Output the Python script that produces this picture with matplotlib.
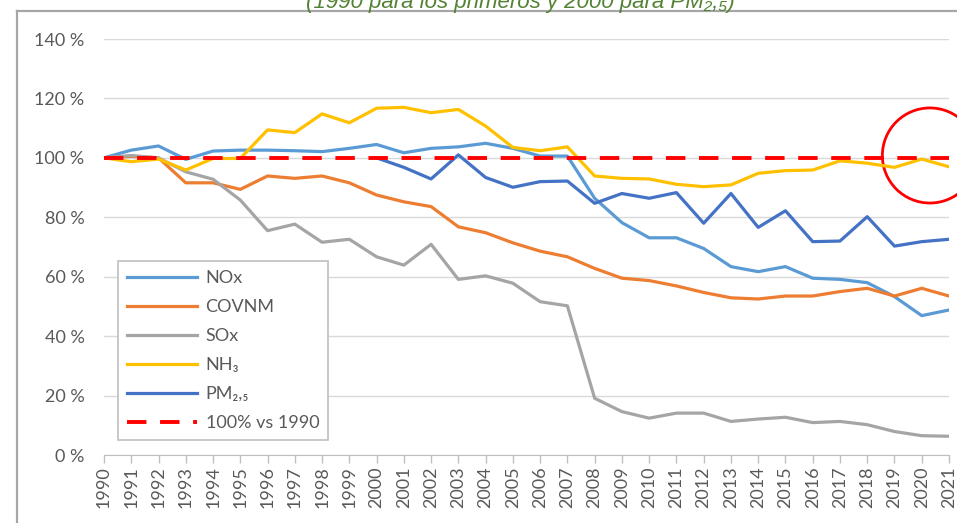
import numpy as np
import matplotlib.pyplot as plt
from matplotlib.patches import Ellipse
from matplotlib.lines import Line2D

plt.rcParams['font.family'] = ['Lato', 'DejaVu Sans']

years = list(range(1990, 2022))

nox = [100, 102.6, 104, 99.5, 102.3, 102.6, 102.6, 102.4, 102.1, 103.2,
       104.5, 101.7, 103.2, 103.7, 104.9, 103.2, 100.6, 100.6, 86.4, 78.2,
       73.1, 73.1, 69.5, 63.4, 61.7, 63.4, 59.5, 59.1, 58.0, 53.3, 46.9, 48.8]
covnm = [100, 100.5, 100, 91.6, 91.6, 89.4, 93.9, 93.1, 93.9, 91.6,
         87.5, 85.2, 83.6, 76.8, 74.8, 71.4, 68.6, 66.7, 62.8, 59.5,
         58.7, 56.9, 54.7, 52.9, 52.5, 53.5, 53.5, 55.0, 56.1, 53.5, 56.1, 53.5]
sox = [100, 100.8, 100, 95.3, 92.8, 85.8, 75.5, 77.7, 71.6, 72.6,
       66.7, 63.9, 70.9, 59.1, 60.3, 57.8, 51.6, 50.2, 19.1, 14.6,
       12.4, 14.1, 14.1, 11.3, 12.1, 12.7, 10.9, 11.3, 10.2, 7.9, 6.5, 6.3]
nh3 = [100, 98.7, 99.6, 95.9, 99.8, 99.8, 109.4, 108.5, 114.8, 111.8,
       116.7, 117.0, 115.2, 116.3, 110.7, 103.5, 102.4, 103.7, 93.9, 93.1,
       92.9, 91.1, 90.3, 90.9, 94.8, 95.7, 95.9, 99.0, 98.2, 96.8, 99.6, 97.0]
pm25 = [np.nan] * 10 + [100, 96.8, 92.9, 101.0, 93.4, 90.1, 92.0, 92.2, 84.7, 88.0,
                        86.4, 88.3, 78.0, 88.0, 76.6, 82.2, 71.8, 72.0, 80.2, 70.3, 71.8, 72.6]
ref = [100] * len(years)

series = [
    ("NOx", nox, "#5B9BD5"),
    ("COVNM", covnm, "#ED7D31"),
    ("SOx", sox, "#A5A5A5"),
    ("NH\u2083", nh3, "#FFC000"),
    ("PM\u2082,\u2085", pm25, "#4472C4"),
]

yticks = [0, 20, 40, 60, 80, 100, 120, 140]
ytick_labels = [f"{v} %" for v in yticks]

W, H = 957, 523
fig = plt.figure(figsize=(W / 100, H / 100), dpi=100)
ax = fig.add_axes([104 / W, 1 - 455 / H, (949 - 104) / W, (455 - 39) / H])

for name, vals, col in series:
    ax.plot(years, vals, color=col, lw=2.3, label=name, solid_joinstyle='round')
ax.plot(years, ref, color="#FF0000", lw=2.8, ls=(0, (5, 3.5)), label="100% vs 1990")

ax.set_xlim(1990, 2021)
ax.set_ylim(0, 140)
ax.set_yticks(yticks)
ax.set_yticklabels(ytick_labels)
ax.set_xticks(years)
ax.set_xticklabels([str(y) for y in years], rotation=90)
ax.tick_params(axis='y', length=0, pad=14, labelsize=13, labelcolor="#595959")
ax.tick_params(axis='x', length=6, width=1, color="#BFBFBF", pad=2, labelsize=13, labelcolor="#595959")
ax.grid(axis='y', color="#D9D9D9", lw=1)
ax.set_axisbelow(True)
for s in ['top', 'right', 'left']:
    ax.spines[s].set_visible(False)
ax.spines['bottom'].set_color("#BFBFBF")

# red circle around the last years
circ = Ellipse((2020.3, 100.8), 3.49, 32, fill=False, color="#FF0000", lw=2, clip_on=False)
ax.add_patch(circ)

leg = fig.legend(loc='upper left', bbox_to_anchor=(118 / W, 1 - 261 / H), fontsize=13,
                 handlelength=3.9, handletextpad=0.45, labelspacing=0.72,
                 borderpad=0.5, borderaxespad=0, fancybox=False, framealpha=1,
                 edgecolor="#BFBFBF")
leg.get_frame().set_linewidth(1.2)
for t in leg.get_texts():
    t.set_color("#595959")

# outer frame of the chart
fig.add_artist(Line2D([17 / W, 17 / W], [0, 1 - 11 / H], color="#A6A6A6", lw=1.6))
fig.add_artist(Line2D([17 / W, 1], [1 - 11 / H, 1 - 11 / H], color="#A6A6A6", lw=1.6))

fig.text(520 / W, 1 - 8 / H, "(1990 para los primeros y 2000 para PM\u2082,\u2085)",
         ha='center', va='baseline', fontsize=16, style='italic', color="#548235",
         family=['Liberation Sans', 'DejaVu Sans'])

fig.savefig("out.png", dpi=100)
